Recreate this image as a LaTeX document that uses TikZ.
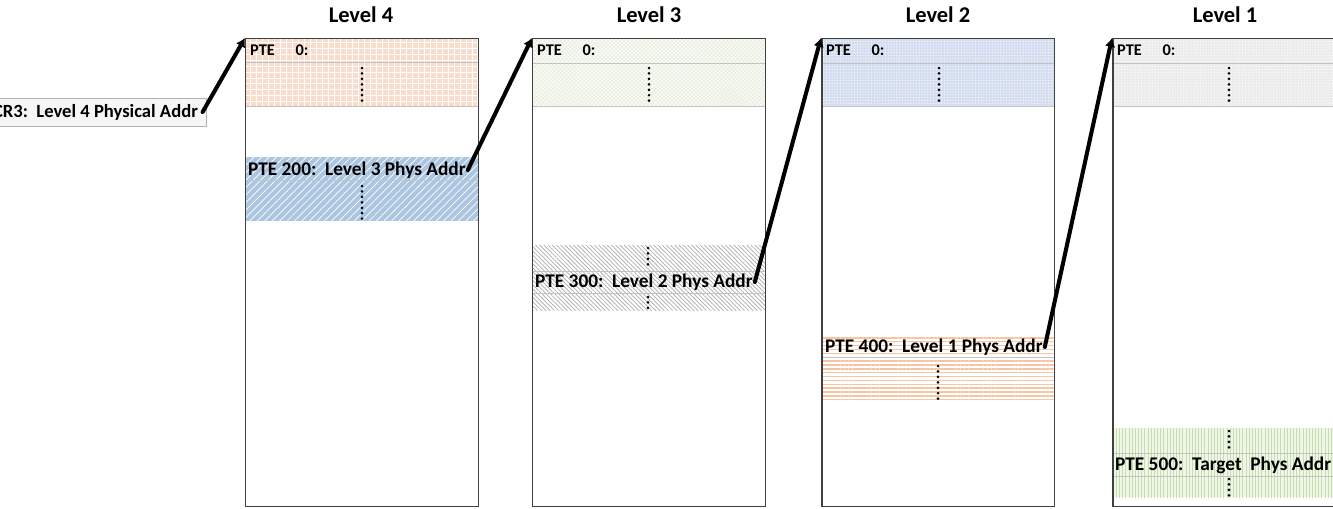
\documentclass[tikz,border=0pt]{standalone}
\usepackage{fontspec}
\setmainfont{Carlito}
\usetikzlibrary{positioning}
\usetikzlibrary{arrows.meta}
\usetikzlibrary{patterns.meta}

\definecolor{frame}{RGB}{64,64,64}
\definecolor{rowgray}{RGB}{195,195,195}
\definecolor{regfill}{RGB}{246,246,246}
\definecolor{salmon}{RGB}{248,220,204}
\definecolor{steel}{RGB}{172,198,226}
\definecolor{sage}{RGB}{232,238,222}
\definecolor{hatchgray}{RGB}{172,172,172}
\definecolor{lavender}{RGB}{212,222,240}
\definecolor{peach}{RGB}{247,196,162}
\definecolor{ash}{RGB}{236,236,236}
\definecolor{leaf}{RGB}{196,222,176}
\definecolor{leafbg}{RGB}{240,246,232}

\begin{document}
\begin{tikzpicture}[x=0.02cm,y=-0.02cm,
  every node/.style={inner sep=1pt,font=\bfseries},
  levelhead/.style={font=\bfseries\fontsize{12.8}{15}\selectfont},
  entry/.style={anchor=west,font=\bfseries\fontsize{11}{13}\selectfont},
  ptezero/.style={anchor=west,font=\bfseries\fontsize{9.3}{11}\selectfont},
  reg/.style={draw=gray!60,fill=regfill,minimum height=0.56cm,inner xsep=5pt,font=\bfseries\fontsize{10.6}{12}\selectfont},
  pagetab/.style={draw=frame,line width=0.85pt,minimum width=4.66cm,minimum height=9.36cm,anchor=north west,inner sep=0pt},
  rowline/.style={draw=rowgray,line width=0.4pt},
  vdots/.style={line width=1.7pt,line cap=round,dash pattern=on 0pt off 3.1pt},
  ptr/.style={line width=2.3pt,line cap=round,-{Latex[length=5pt,width=6pt]}},
  gridband/.style={preaction={fill=salmon},pattern={Hatch[angle=0,distance=3.4pt,line width=0.45pt]},pattern color=white},
  blueband/.style={preaction={fill=steel},pattern={Lines[angle=45,distance=3pt,line width=0.4pt]},pattern color=white},
  sageband/.style={preaction={fill=sage},pattern={Hatch[angle=45,distance=1.6pt,line width=0.3pt]},pattern color=white},
  grayband/.style={preaction={fill=white},pattern={Lines[angle=-45,distance=1.7pt,line width=0.4pt]},pattern color=hatchgray},
  lavband/.style={preaction={fill=lavender},pattern={Dots[distance=1.6pt,radius=0.35pt]},pattern color=white},
  peachband/.style={preaction={fill=white},pattern={Lines[angle=0,distance=2.2pt,line width=0.8pt]},pattern color=peach},
  ashband/.style={preaction={fill=ash},pattern={Dots[distance=1.6pt,radius=0.35pt]},pattern color=white},
  leafband/.style={preaction={fill=leafbg},pattern={Lines[angle=90,distance=1.8pt,line width=0.5pt]},pattern color=leaf}]
  \useasboundingbox (0,0) rectangle (1333,508);

  % shaded rows of each table
  \fill[gridband] (245,38) rectangle (478,106);
  \fill[blueband] (245,157) rectangle (478,221);
  \fill[sageband] (532,38) rectangle (765,106);
  \fill[grayband] (532,245) rectangle (765,310);
  \fill[lavband] (821,38) rectangle (1055,106);
  \fill[peachband] (821,336) rectangle (1055,402);
  \fill[ashband] (1112,38) rectangle (1345,106);
  \fill[leafband] (1112,428) rectangle (1345,497);

  \draw[rowline] (245,62) -- (478,62) (245,106) -- (478,106);
  \draw[rowline] (245,180) -- (478,180);
  \draw[rowline] (532,63) -- (765,63) (532,106) -- (765,106);
  \draw[rowline] (532,271) -- (765,271) (532,293) -- (765,293);
  \draw[rowline] (821,63) -- (1055,63) (821,106) -- (1055,106);
  \draw[rowline] (821,357) -- (1055,357);
  \draw[rowline] (1112,63) -- (1345,63) (1112,106) -- (1345,106);
  \draw[rowline] (1112,453) -- (1345,453) (1112,476) -- (1345,476);

  % page tables
  \node[pagetab] (t4) at (245,38) {};
  \node[pagetab] (t3) at (532,38) {};
  \node[pagetab] (t2) at (821,38) {};
  \node[pagetab] (t1) at (1112,38) {};

  \node[levelhead] (h4) at (361,15) {Level 4};
  \node[levelhead] (h3) at (649,15) {Level 3};
  \node[levelhead] (h2) at (938,15) {Level 2};
  \node[levelhead] (h1) at (1225,15) {Level 1};

  \node[reg,anchor=east] (cr3) at (207,112) {CR3:\ \ Level 4 Physical Addr};

  \node[ptezero] (p4) at (248,50) {PTE};
  \node[ptezero,right=0.33cm of p4] (z4) {0:};
  \node[ptezero] (p3) at (535,50) {PTE};
  \node[ptezero,right=0.33cm of p3] (z3) {0:};
  \node[ptezero] (p2) at (824,50) {PTE};
  \node[ptezero,right=0.33cm of p2] (z2) {0:};
  \node[ptezero] (p1) at (1115,50) {PTE};
  \node[ptezero,right=0.33cm of p1] (z1) {0:};

  \node[entry] (e200) at (246,170) {PTE 200:\ \ Level 3 Phys Addr};
  \node[entry] (e300) at (533,282) {PTE 300:\ \ Level 2 Phys Addr};
  \node[entry] (e400) at (823,347) {PTE 400:\ \ Level 1 Phys Addr};
  \node[entry] (e500) at (1113,465) {PTE 500:\ \ Target\ \ Phys Addr};

  % elided entries
  \draw[vdots] (362,68) -- (362,103);
  \draw[vdots] (362,186) -- (362,220);
  \draw[vdots] (649,68) -- (649,103);
  \draw[vdots] (648,248) -- (648,268);
  \draw[vdots] (648,297) -- (648,310);
  \draw[vdots] (939,68) -- (939,103);
  \draw[vdots] (938,366) -- (938,401);
  \draw[vdots] (1229,68) -- (1229,103);
  \draw[vdots] (1229,431) -- (1229,451);
  \draw[vdots] (1229,479) -- (1229,497);

  \draw[ptr] ([xshift=-2.5pt]cr3.east) -- (t4.north west);
  \draw[ptr] (e200.east) -- (t3.north west);
  \draw[ptr] (e300.east) -- (t2.north west);
  \draw[ptr] (e400.east) -- (t1.north west);
\end{tikzpicture}
\end{document}
